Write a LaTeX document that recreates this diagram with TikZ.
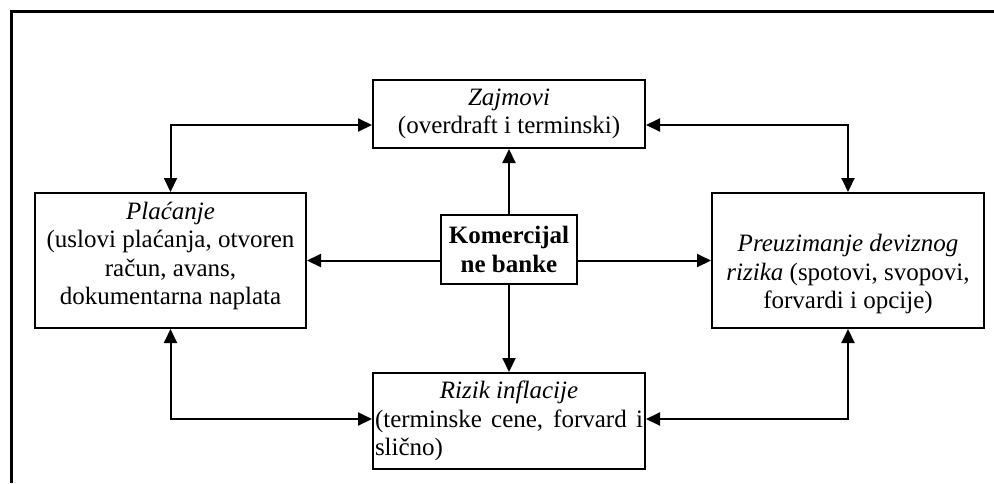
\documentclass[tikz,border=0pt]{standalone}
\usepackage{fontspec}
\setmainfont{Liberation Serif}
\usetikzlibrary{arrows.meta,calc}
\begin{document}
\begin{tikzpicture}[x=0.5pt,y=-0.5pt,
  box/.style={draw,line width=1pt,inner sep=0pt,align=center,
    font=\fontsize{12.5pt}{14.25pt}\selectfont},
  tip/.style={Triangle[length=7pt,width=6.5pt]},
  both/.style={line width=1pt,{Triangle[length=7pt,width=6.5pt]}-{Triangle[length=7pt,width=6.5pt]}},
  one/.style={line width=1pt,-{Triangle[length=7pt,width=6.5pt]}},
  frame/.style={line width=1.5pt}]
\useasboundingbox (0,0) rectangle (994,483);
% open outer frame (top and left edges)
\draw[frame] (11,483) -- (11,11) -- (994,11);

% boxes
\node[box,minimum width=136pt,minimum height=34pt] (zaj) at (509,114)
  {\textit{Zajmovi}\\(overdraft i terminski)};
\node[box,minimum width=135.5pt,minimum height=67.5pt] (plac) at (170.5,260.5)
  {\raisebox{2pt}[\height][\depth]{\begin{tabular}{@{}c@{}}\textit{Plaćanje}\\(uslovi plaćanja, otvoren\\račun, avans,\\dokumentarna naplata\end{tabular}}};
\node[box,minimum width=68pt,minimum height=34.5pt,font=\fontsize{12.5pt}{14.25pt}\selectfont\bfseries] (kb) at (509,249.5)
  {Komercijal\\ne banke};
\node[box,minimum width=136pt,minimum height=67.5pt] (pre) at (848,260.5)
  {\raisebox{-7pt}[\height][\depth]{\begin{tabular}{@{}c@{}}\textit{Preuzimanje deviznog}\\\textit{rizika} (spotovi, svopovi,\\forvardi i opcije)\end{tabular}}};
\node[box,minimum width=136pt,minimum height=48pt] (riz) at (509,421)
  {\parbox{134pt}{\makebox[134pt][c]{\textit{Rizik inflacije}}\\
   \makebox[134pt][s]{(terminske cene, forvard i}\\
   slično)}};

% connectors from the centre box
\draw[one] (kb.north) -- (zaj.south);
\draw[one] (kb.south) -- (riz.north);
\draw[one] (kb.west |- plac.east) -- (plac.east);
\draw[one] (kb.east |- pre.west) -- (pre.west);

% corner links
\draw[both] (plac.north) |- ($(zaj.west)+(0,11)$);
\draw[both] (pre.north) |- ($(zaj.east)+(0,11)$);
\draw[both] (plac.south) |- ($(riz.west)+(0,-2)$);
\draw[both] (pre.south) |- ($(riz.east)+(0,-2)$);
\end{tikzpicture}
\end{document}
